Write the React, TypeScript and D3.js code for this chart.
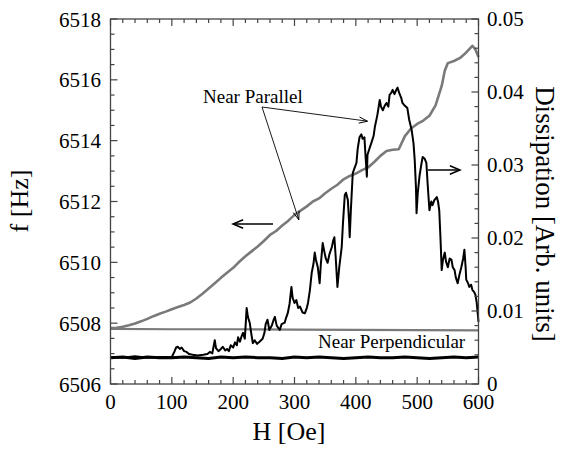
import React from "react";
import * as d3 from "d3";

// ---------- DATA ----------
// Near parallel: resonance frequency (left axis) vs field
const hParallelF = [0,10,20,30,40,50,60,70,80,90,100,110,120,130,140,150,160,170,180,190,200,210,220,230,240,250,260,270,280,290,300,310,320,330,340,350,360,370,380,390,400,410,420,430,440,450,460,470,480,490,500,510,520,530,540,545,550,560,570,580,590,595,600];
const fParallel = [6507.84,6507.85,6507.88,6507.93,6507.99,6508.06,6508.14,6508.23,6508.31,6508.38,6508.46,6508.53,6508.60,6508.68,6508.81,6508.97,6509.14,6509.31,6509.49,6509.66,6509.82,6510.02,6510.20,6510.36,6510.52,6510.70,6510.90,6511.03,6511.21,6511.37,6511.56,6511.70,6511.84,6512.00,6512.10,6512.27,6512.42,6512.55,6512.73,6512.84,6512.92,6513.03,6513.12,6513.30,6513.50,6513.66,6513.70,6513.72,6514.15,6514.40,6514.55,6514.66,6514.82,6515.16,6515.80,6516.30,6516.55,6516.62,6516.72,6516.90,6517.12,6517.00,6516.75];

// Near parallel: dissipation (right axis)
const hParallelD = [0,20,40,60,80,100,104,107,110,113,116,120,124,128,134,142,151,158,162,166,170,172,176,180,183,187,190,193,196,200,203,206,208,211,214,216,219,222,224,227,229,232,235,239,243,248,251,253,256,259,263,266,268,271,276,279,284,286,289,292,295,297,300,303,306,309,313,317,320,322,325,328,331,333,335,338,341,343,346,349,351,354,357,361,363,365,367,370,373,377,379,382,384,387,389,390,392,395,398,401,403,406,409,411,414,416,418,419,422,426,429,431,435,439,441,444,447,450,453,455,458,460,463,466,468,471,474,476,480,484,487,491,494,496,498,499,501,504,507,509,512,515,517,520,523,525,528,532,534,536,538,540,542,545,547,550,553,556,558,561,563,566,569,572,575,577,579,580,583,585,588,590,593,595,597,600];
const dParallel = [0.0037,0.0036,0.0038,0.0036,0.0037,0.0037,0.0044,0.0050,0.0051,0.0048,0.0050,0.0045,0.0044,0.0041,0.0040,0.0039,0.0040,0.0041,0.0044,0.0042,0.0060,0.0049,0.0045,0.0048,0.0051,0.0046,0.0048,0.0045,0.0053,0.0050,0.0057,0.0053,0.0064,0.0058,0.0066,0.0070,0.0062,0.0104,0.0092,0.0084,0.0072,0.0056,0.0060,0.0055,0.0058,0.0062,0.0070,0.0082,0.0088,0.0074,0.0080,0.0088,0.0092,0.0080,0.0074,0.0082,0.0084,0.0090,0.0097,0.0110,0.0133,0.0118,0.0111,0.0115,0.0104,0.0106,0.0098,0.0097,0.0104,0.0111,0.0128,0.0152,0.0165,0.0180,0.0170,0.0160,0.0138,0.0165,0.0193,0.0180,0.0172,0.0166,0.0178,0.0188,0.0196,0.0201,0.0176,0.0133,0.0160,0.0188,0.0220,0.0259,0.0262,0.0252,0.0222,0.0201,0.0240,0.0289,0.0296,0.0303,0.0322,0.0338,0.0342,0.0336,0.0338,0.0310,0.0284,0.0314,0.0322,0.0332,0.0340,0.0352,0.0368,0.0389,0.0380,0.0375,0.0381,0.0385,0.0380,0.0396,0.0399,0.0403,0.0397,0.0403,0.0406,0.0398,0.0392,0.0385,0.0381,0.0378,0.0362,0.0348,0.0330,0.0307,0.0270,0.0234,0.0262,0.0286,0.0302,0.0311,0.0309,0.0303,0.0275,0.0238,0.0250,0.0245,0.0252,0.0256,0.0250,0.0238,0.0200,0.0156,0.0170,0.0180,0.0168,0.0160,0.0172,0.0170,0.0160,0.0156,0.0146,0.0138,0.0150,0.0160,0.0172,0.0184,0.0160,0.0143,0.0138,0.0133,0.0136,0.0129,0.0126,0.0122,0.0112,0.0085];

// Near perpendicular: frequency (left axis)
const hPerpF = [0,100,200,300,400,500,600];
const fPerp = [6507.81,6507.80,6507.80,6507.79,6507.78,6507.77,6507.76];

// Near perpendicular: dissipation (right axis)
const hPerpD = [0,20,40,60,80,100,120,140,160,180,200,220,240,260,280,300,320,340,360,380,400,420,440,460,480,500,520,540,560,580,600];
const dPerp = [0.0036,0.0037,0.0035,0.0037,0.0036,0.0036,0.0037,0.0036,0.0035,0.0037,0.0036,0.0037,0.0036,0.0036,0.0035,0.0037,0.0036,0.0037,0.0036,0.0035,0.0036,0.0037,0.0036,0.0036,0.0037,0.0036,0.0035,0.0036,0.0037,0.0036,0.0037];

const xTicks = [0,100,200,300,400,500,600];
const yLeftTicks = [6506,6508,6510,6512,6514,6516,6518];
const yRightTicks = [0,0.01,0.02,0.03,0.04,0.05];
const yRightLabels = ["0","0.01","0.02","0.03","0.04","0.05"];

// ---------- CHART ----------
const W = 578, H = 453;
const L = 110.5, R = 478.5, T = 19, B = 384;
const FONT = "Liberation Serif, Times New Roman, Times, DejaVu Serif, serif";
const GRAY = "#7a7a7a";
const txt = { fontFamily: FONT };

export default function App() {
  const x = d3.scaleLinear().domain([0, 600]).range([L, R]);
  const yL = d3.scaleLinear().domain([6506, 6518]).range([B, T]);
  const yR = d3.scaleLinear().domain([0, 0.05]).range([B, T]);

  const mk = (hs: number[], vs: number[], ys: d3.ScaleLinear<number, number>) =>
    d3.line<number>().x((_, i) => x(hs[i])).y((v) => ys(v))(vs) || "";

  const xMinor = d3.range(0, 600.001, 20);
  const yLMinor = d3.range(6506, 6518.001, 0.5);
  const yRMinor = d3.range(0, 0.05001, 0.002);
  const isMajor = (v: number, step: number) => Math.abs(v / step - Math.round(v / step)) < 1e-6;

  const axisColor = "#444";
  const tickEls: React.ReactNode[] = [];
  xMinor.forEach((v, i) => {
    const len = isMajor(v, 100) ? 7 : 4;
    tickEls.push(<line key={"xb" + i} x1={x(v)} x2={x(v)} y1={B} y2={B - len} stroke={axisColor} strokeWidth={1.2} />);
    tickEls.push(<line key={"xt" + i} x1={x(v)} x2={x(v)} y1={T} y2={T + len} stroke={axisColor} strokeWidth={1.2} />);
  });
  yLMinor.forEach((v, i) => {
    const len = isMajor(v - 6506, 2) ? 7 : 4;
    tickEls.push(<line key={"yl" + i} x1={L} x2={L + len} y1={yL(v)} y2={yL(v)} stroke={axisColor} strokeWidth={1.2} />);
  });
  yRMinor.forEach((v, i) => {
    const len = isMajor(v, 0.01) ? 7 : 4;
    tickEls.push(<line key={"yr" + i} x1={R} x2={R - len} y1={yR(v)} y2={yR(v)} stroke={axisColor} strokeWidth={1.2} />);
  });

  const arrowHead = (tipX: number, tipY: number, fromX: number, fromY: number, size: number, spread: number) => {
    const a = Math.atan2(tipY - fromY, tipX - fromX);
    const p1x = tipX - size * Math.cos(a - spread), p1y = tipY - size * Math.sin(a - spread);
    const p2x = tipX - size * Math.cos(a + spread), p2y = tipY - size * Math.sin(a + spread);
    return `M${p1x},${p1y} L${tipX},${tipY} L${p2x},${p2y}`;
  };

  const labelOrigin = { x: 262, y: 107 };
  const tipGray = { x: x(307), y: yL(6511.4) };
  const tipBlack = { x: x(419), y: yR(0.036) };

  return (
    <svg width={W} height={H} style={{ position: "absolute", left: 0, top: 0, background: "#fff" }}>
      <path d={mk(hPerpF, fPerp, yL)} fill="none" stroke={GRAY} strokeWidth={2.2} />
      <path d={mk(hPerpD, dPerp, yR)} fill="none" stroke="#000" strokeWidth={3} />
      <path d={mk(hParallelF, fParallel, yL)} fill="none" stroke={GRAY} strokeWidth={2.6} strokeLinejoin="round" />
      <path d={mk(hParallelD, dParallel, yR)} fill="none" stroke="#000" strokeWidth={2} strokeLinejoin="round" />

      <rect x={L} y={T} width={R - L} height={B - T} fill="none" stroke={axisColor} strokeWidth={1.3} />
      {tickEls}

      {xTicks.map((v) => (
        <text key={"xl" + v} x={x(v)} y={408.5} textAnchor="middle" fontSize={21} fill="#000" style={txt}>{v}</text>
      ))}
      {yLeftTicks.map((v) => (
        <text key={"yll" + v} x={101} y={yL(v) + 7.5} textAnchor="end" fontSize={21} fill="#000" style={txt}>{v}</text>
      ))}
      {yRightTicks.map((v, i) => (
        <text key={"yrl" + v} x={487} y={yR(v) + 7} textAnchor="start" fontSize={21} fill="#000" style={txt}>{yRightLabels[i]}</text>
      ))}

      <text x={289} y={440} textAnchor="middle" fontSize={26} fill="#000" style={txt}>H [Oe]</text>
      <text transform={`translate(28,201) rotate(-90)`} textAnchor="middle" fontSize={26} fill="#000" style={txt}>f [Hz]</text>
      <text transform={`translate(536,214) rotate(90)`} textAnchor="middle" fontSize={27} fill="#000" style={txt}>Dissipation [Arb. units]</text>

      <text x={203} y={103} fontSize={19} fill="#000" style={txt}>Near Parallel</text>
      <line x1={labelOrigin.x} y1={labelOrigin.y} x2={tipBlack.x} y2={tipBlack.y} stroke="#000" strokeWidth={0.9} />
      <path d={arrowHead(tipBlack.x, tipBlack.y, labelOrigin.x, labelOrigin.y, 9, 0.35)} fill="none" stroke="#000" strokeWidth={1} />
      <line x1={labelOrigin.x} y1={labelOrigin.y} x2={tipGray.x} y2={tipGray.y} stroke="#000" strokeWidth={0.9} />
      <path d={arrowHead(tipGray.x, tipGray.y, labelOrigin.x, labelOrigin.y, 9, 0.35)} fill="none" stroke="#000" strokeWidth={1} />

      <text x={318} y={348} fontSize={19} fill="#000" style={txt}>Near Perpendicular</text>

      <line x1={273} y1={224} x2={234} y2={224} stroke="#000" strokeWidth={1.5} />
      <path d={arrowHead(233, 224, 273, 224, 11, 0.4)} fill="none" stroke="#000" strokeWidth={1.5} />
      <line x1={428} y1={170} x2={459} y2={170} stroke="#000" strokeWidth={1.5} />
      <path d={arrowHead(460, 170, 428, 170, 11, 0.4)} fill="none" stroke="#000" strokeWidth={1.5} />
    </svg>
  );
}
